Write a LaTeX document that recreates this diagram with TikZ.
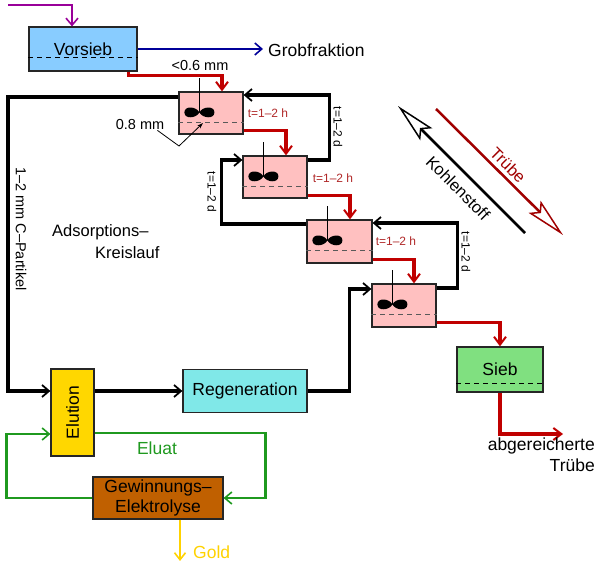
\documentclass[tikz,border=0pt]{standalone}
\usepackage{fontspec}
\setmainfont{Liberation Sans}
\usetikzlibrary{arrows.meta,calc}
\definecolor{myred}{HTML}{C00000}
\definecolor{darkred}{HTML}{A00000}
\definecolor{tlabred}{HTML}{B02828}
\definecolor{myblue}{HTML}{000099}
\definecolor{mypurple}{HTML}{990099}
\definecolor{mygreen}{HTML}{1F991F}
\definecolor{mygold}{HTML}{FFD200}
\definecolor{vblue}{HTML}{88CCFF}
\definecolor{tpink}{HTML}{FFC0C0}
\definecolor{sgreen}{HTML}{80E080}
\definecolor{eyellow}{HTML}{FFD700}
\definecolor{rcyan}{HTML}{80E8E8}
\definecolor{gbrown}{HTML}{C06000}
\tikzset{
  box/.style={draw=black!85, line width=1.2pt, inner sep=0pt, font=\fontsize{17.5}{21}\selectfont},
  tank/.style={box, fill=tpink, minimum width=64pt, minimum height=42pt},
  dline/.style={dash pattern=on 5pt off 4pt, line width=1pt},
  barbtip/.style={-{Straight Barb[length=7pt,width=12pt,line width=1.8pt]}},
  blkarr/.style={draw=black, line width=3.2pt, barbtip},
  redarr/.style={draw=myred, line width=3.2pt, -{Straight Barb[length=8pt,width=12pt,line width=2pt]}},
  thinarr/.style={line width=2.4pt, -{Straight Barb[length=7pt,width=12pt,line width=1.6pt]}},
  tlab/.style={font=\fontsize{12}{14}\selectfont, text=tlabred, inner sep=0pt},
  dlab/.style={font=\fontsize{12}{14}\selectfont, inner sep=0pt, rotate=-90},
  txt/.style={font=\fontsize{17.5}{21}\selectfont, inner sep=0pt},
  mtxt/.style={font=\fontsize{14.5}{17}\selectfont, inner sep=0pt},
  prop/.pic={\fill (0,0) .. controls (3,-6) and (15,-7) .. (15,0) .. controls (15,7) and (3,6) .. (0,0)
                 .. controls (-3,6) and (-15,7) .. (-15,0) .. controls (-15,-7) and (-3,-6) .. (0,0) -- cycle;}
}
\begin{document}
\begin{tikzpicture}[x=1pt,y=-1pt]
\useasboundingbox (0,0) rectangle (600,561);

% boxes
\node[box, fill=vblue, minimum width=108pt, minimum height=44pt] (vorsieb) at (83,49) {Vorsieb};
\node[tank] (t1) at (211,113) {};
\node[tank] (t2) at (275,177) {};
\node[tank, minimum width=65pt, minimum height=43pt] (t3) at (339.5,241.5) {};
\node[tank, minimum height=43pt] (t4) at (404,305.5) {};
\node[box, fill=sgreen, minimum width=86pt, minimum height=45pt] (sieb) at (500,369.5) {Sieb};
\node[box, fill=eyellow, minimum width=43pt, minimum height=87pt] (elu) at (72.5,412.5) {\rotatebox{90}{Elution}};
\node[box, fill=rcyan, minimum width=124pt, minimum height=43pt] (reg) at (245,391) {Regeneration};
\node[box, fill=gbrown, minimum width=130pt, minimum height=42pt, align=center] (gew) at (158,498) {Gewinnungs–\\[-1pt]Elektrolyse};

% dashed lines
\draw[dline] ([yshift=14pt]vorsieb.south west) -- ([yshift=14pt]vorsieb.south east);
\draw[dline] ([yshift=9pt]sieb.south west) -- ([yshift=9pt]sieb.south east);
\foreach \t/\d in {t1/12,t2/12,t3/13,t4/13}
  \draw[dline, draw=black!65] ([yshift=\d pt]\t.south west) -- ([yshift=\d pt]\t.south east);

% agitators
\foreach \t in {t1,t2,t3,t4} {
  \draw[line width=1.2pt] ([xshift=21pt,yshift=13pt]\t.north west) -- ([xshift=21pt,yshift=-21pt]\t.north west);
  \pic at ([xshift=21pt,yshift=-21pt]\t.north west) {prop};
}

% tank labels
\node[tlab, anchor=west] at ([xshift=4pt]t1.east) {t=1–2 h};
\node[tlab, anchor=west] at ([xshift=5pt,yshift=-1pt]t2.east) {t=1–2 h};
\node[tlab, anchor=west] at ([xshift=3pt]t3.east) {t=1–2 h};

% feed
\coordinate (feed) at (8,5);
\draw[mypurple, thinarr] (feed) -| ([xshift=-11pt]vorsieb.north);
% Grobfraktion
\coordinate (grob) at (263,49);
\draw[myblue, thinarr] (vorsieb.east) -- (grob);
\node[txt, anchor=west] (grobt) at (268,50) {Grobfraktion};

% red slurry path
\draw[redarr] ([xshift=-9pt]vorsieb.south east) -- ++(0,4) -| ([xshift=11pt]t1.north);
\node[mtxt] (lt06) at (200,66) {<0.6 mm};
\draw[redarr] ([yshift=4pt]t1.south east) -| ([xshift=11pt]t2.north);
\draw[redarr] ([yshift=3pt]t2.south east) -| ([xshift=10.5pt]t3.north);
\draw[redarr] ([yshift=4pt]t3.south east) -| ([xshift=10pt]t4.north);
\draw[redarr] ([yshift=5pt]t4.south east) -| (sieb.north);
\coordinate (outtr) at (563,434);
\draw[redarr] (sieb.south) |- (outtr);
\node[txt, anchor=north east, align=right] (abg) at (595,438) {abgereicherte\\[0pt]Trübe};

% carbon counter-current
\draw[blkarr] ([yshift=17.5pt]t4.east) -- ++(21,0) |- ([yshift=18.5pt]t3.east);
\draw[blkarr] ([yshift=17.5pt]t3.west) -- ++(-85,0) |- ([yshift=17pt]t2.west);
\draw[blkarr] ([yshift=17pt]t2.east) -- ++(22,0) |- ([yshift=18pt]t1.east);
\node[dlab] (d43) at (466,252) {t=1–2 d};
\node[dlab] (d32) at (212,192) {t=1–2 d};
\node[dlab] (d21) at (338,127) {t=1–2 d};

% outer adsorption loop
\draw[blkarr] ([yshift=16pt]t1.west) -| (8,391) -- ([yshift=21.5pt]elu.west);
\draw[blkarr] ([yshift=21.5pt]elu.east) -- (reg.west);
\draw[blkarr] (reg.east) -| ([xshift=-22pt,yshift=16.5pt]t4.west) -- ([yshift=16.5pt]t4.west);

\node[mtxt, rotate=-90] (cpart) at (21,229) {1–2 mm C–Partikel};
\node[font=\fontsize{16.5}{22}\selectfont, inner sep=0pt, align=left, anchor=north west] (ads) at (52,224) {Adsorptions–\\\hspace*{43pt}Kreislauf};

% 0.8 mm pointer
\node[mtxt] (p08) at (140,125) {0.8 mm};
\coordinate (p08tip) at (203,123);
\draw[line width=0.8pt, -{Stealth[length=6pt,width=4pt]}] ([xshift=-7pt]p08.south east) -- (179,146) -- (p08tip);

% elution / electrolysis loop
\draw[mygreen, thinarr] ([yshift=-20.5pt]elu.east) -| ([xshift=42pt]gew.east) -- (gew.east);
\draw[mygreen, thinarr] (gew.west) -| ([xshift=-44pt,yshift=-21.5pt]elu.west) -- ([yshift=-21.5pt]elu.west);
\node[txt, text=mygreen] (eluat) at (157,448) {Eluat};
\coordinate (goldend) at (180,561);
\draw[mygold, line width=2.4pt, -{Straight Barb[length=7pt,width=11pt,line width=1.6pt]}] ([xshift=22pt]gew.south) -- (goldend);
\node[txt, text=mygold, anchor=west] (gold) at (193,552) {Gold};

% direction arrows
\coordinate (ka) at (525,233);
\coordinate (kb) at (398,106);
\draw[line width=2.5pt, -{Stealth[open, length=40pt, width=17pt, inset=7pt, line width=1.5pt, fill=white]}] (ka) -- (kb);
\coordinate (ta) at (436,109);
\coordinate (tb) at (563,235);
\draw[darkred, line width=2.5pt, -{Stealth[open, length=40pt, width=17pt, inset=7pt, line width=1.5pt, fill=white]}] (ta) -- (tb);
\node[font=\fontsize{16.5}{20}\selectfont, inner sep=0pt, rotate=-45] (kohle) at (458,188) {Kohlenstoff};
\node[font=\fontsize{16.5}{20}\selectfont, inner sep=0pt, rotate=-45, text=darkred] (truebe) at (508,165) {Trübe};
\end{tikzpicture}
\end{document}
